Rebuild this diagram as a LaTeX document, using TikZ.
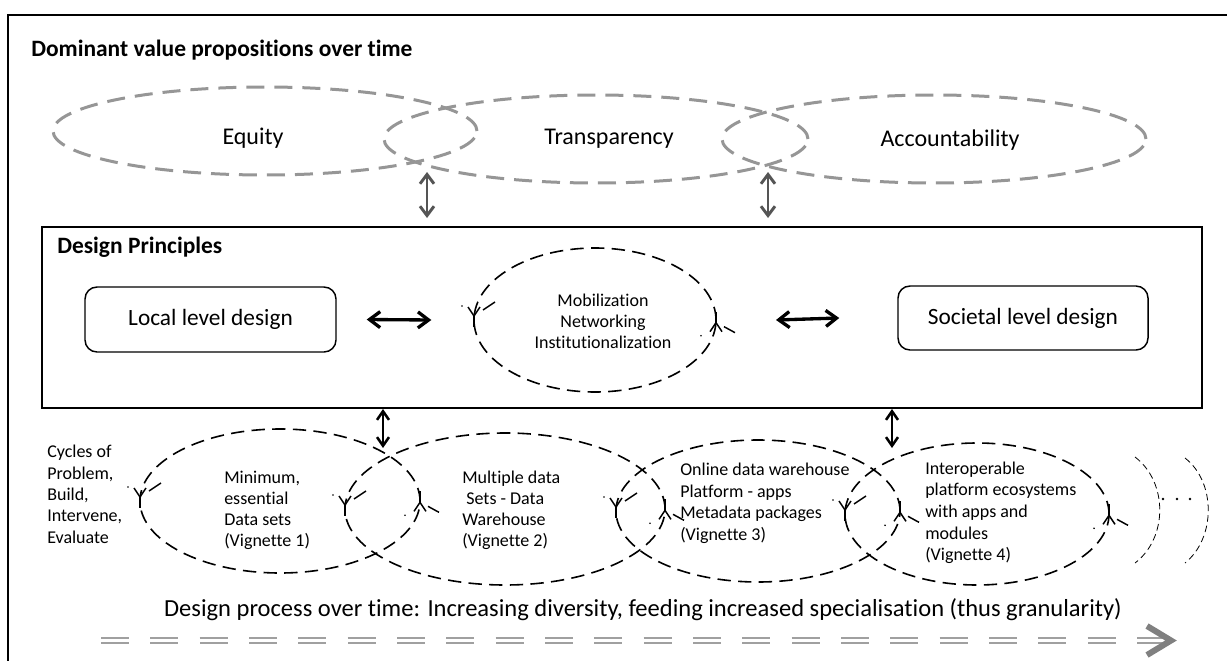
\documentclass[tikz,border=0pt]{standalone}
\usepackage{fontspec}
\setmainfont{Carlito}[Ligatures={NoCommon}]
\usetikzlibrary{arrows.meta,shapes.geometric}
\definecolor{ellgray}{RGB}{150,150,150}
\definecolor{arrgray}{RGB}{85,85,85}
\definecolor{procgray}{RGB}{160,160,160}
\definecolor{tipgray}{RGB}{128,128,128}
\begin{document}
\begin{tikzpicture}[x=0.75pt,y=-0.75pt,
  valell/.style={draw=ellgray, line width=2.25pt, dash pattern=on 13.5pt off 7.5pt, ellipse, inner sep=0pt, outer sep=0pt},
  cycell/.style={draw=black, line width=1.2pt, dash pattern=on 10pt off 5.5pt, ellipse, inner sep=0pt, outer sep=0pt},
  bigtxt/.style={font=\fontsize{18}{21}\selectfont, inner sep=0pt, anchor=base},
  headtxt/.style={font=\bfseries\fontsize{17.6}{21}\selectfont, inner sep=0pt, anchor=base west},
  smalltxt/.style={font=\fontsize{13.5}{16}\selectfont, inner sep=0pt, anchor=base west},
  levelbox/.style={draw, rounded corners=9pt, line width=1.1pt, inner sep=0pt, font=\fontsize{17.5}{21}\selectfont},
  grayarrow/.style={draw=arrgray, line width=2.2pt, {Straight Barb[length=7pt,width=10.5pt]}-{Straight Barb[length=7pt,width=10.5pt]}},
  blkarrow/.style={draw=black, line width=2.5pt, {Straight Barb[length=8pt,width=12pt]}-{Straight Barb[length=8pt,width=12pt]}},
  blkvarrow/.style={draw=black, line width=1.9pt, {Straight Barb[length=6.5pt,width=9pt]}-{Straight Barb[length=6.5pt,width=9pt]}},
  ymark/.style={draw=black, line width=1.1pt},
  pics/ymarkL/.style={code={
    \draw[ymark] (-6,-9) -- (0,0) -- (6,-9);
    \draw[ymark] (0,0) -- (0,11);
    \draw[ymark] (9,-6) -- (21,-14);
    \fill (-12,-10) circle (0.9);
  }},
  pics/ymarkR/.style={code={
    \draw[ymark] (-6,9) -- (0,0) -- (6,9);
    \draw[ymark] (0,0) -- (0,-11);
    \draw[ymark] (8,4) -- (19,10);
    \fill (-15,13) circle (0.9);
  }}
]
\useasboundingbox (0,0) rectangle (1227,660);
% outer frame (cropped on right and bottom)
\coordinate (frbl) at (8,662);
\coordinate (frtl) at (8,15);
\coordinate (frtr) at (1229,15);
\draw[line width=2pt] (frbl) -- (frtl) -- (frtr);

\node[headtxt] (title) at (31,56) {Dominant value propositions over time};

% value proposition ellipses
\node[valell, minimum width=318pt, minimum height=66pt] (eq) at (265,131) {};
\node[valell, minimum width=318pt, minimum height=66pt] (tr) at (596,139) {};
\node[valell, minimum width=318pt, minimum height=66pt] (ac) at (934,139) {};
\node[bigtxt] (teq) at (253,144) {Equity};
\node[bigtxt] (ttr) at (609,144) {Transparency};
\node[bigtxt] (tac) at (950,146) {Accountability};

% design principles box
\node[draw, line width=1.6pt, minimum width=870pt, minimum height=135.75pt, inner sep=0pt] (dp) at (622,317.5) {};
\node[headtxt] (dptitle) at (57,253) {Design Principles};

\coordinate (ga1s) at (427,172);
\coordinate (ga1e) at (427,218);
\coordinate (ga2s) at (768,172);
\coordinate (ga2e) at (768,218);
\draw[grayarrow] (ga1s) -- (ga1e);
\draw[grayarrow] (ga2s) -- (ga2e);

\node[levelbox, minimum width=188.25pt, minimum height=48.75pt] (local) at (210.5,319.5) {Local level design};
\node[levelbox, minimum width=187.5pt, minimum height=48pt] (soc) at (1023,318) {Societal level design};

\node[cycell, minimum width=181.5pt, minimum height=108pt] (mid) at (595,320) {};
\node[smalltxt, anchor=base] (m1) at (603,306) {Mobilization};
\node[smalltxt, anchor=base] (m2) at (603,327) {Networking};
\node[smalltxt, anchor=base] (m3) at (603,348) {Institutionalization};
\pic at ([yshift=3pt]mid.west) {ymarkL};
\pic at ([yshift=-2pt]mid.east) {ymarkR};

\draw[blkarrow] ([xshift=22.5pt]local.east) -- ([xshift=-32pt]mid.west);
\draw[blkarrow] ([xshift=45pt]mid.east) -- ([xshift=-43.5pt]soc.west);

% bottom arrows from design box
\coordinate (ba1s) at (383,409);
\coordinate (ba1e) at (383,448);
\coordinate (ba2s) at (892,409);
\coordinate (ba2e) at (892,448);
\draw[blkvarrow] (ba1s) -- (ba1e);
\draw[blkvarrow] (ba2s) -- (ba2e);

% cycles
\node[smalltxt] (c1) at (47,457) {Cycles of};
\node[smalltxt] (c2) at (47,479) {Problem,};
\node[smalltxt] (c3) at (47,500) {Build,};
\node[smalltxt] (c4) at (47,521) {Intervene,};
\node[smalltxt] (c5) at (47,543) {Evaluate};

\node[cycell, minimum width=210pt, minimum height=108pt] (e1) at (280,501) {};
\node[cycell, minimum width=240pt, minimum height=114pt] (e2) at (505,509) {};
\node[cycell, minimum width=213pt, minimum height=106.5pt] (e3) at (758,511) {};
\node[cycell, minimum width=198pt, minimum height=106.5pt] (e4) at (977,514) {};

\foreach \e in {e1,e2,e3,e4}{
  \pic at ([yshift=3pt]\e.west) {ymarkL};
  \pic at ([yshift=-1pt]\e.east) {ymarkR};
}

\node[smalltxt] (v1a) at (224,483) {Minimum,};
\node[smalltxt] (v1b) at (224,504) {essential};
\node[smalltxt] (v1c) at (224,525) {Data sets};
\node[smalltxt] (v1d) at (224,546) {(Vignette 1)};

\node[smalltxt] (v2a) at (462,483) {Multiple data};
\node[smalltxt] (v2b) at (462,504) {\ Sets - Data};
\node[smalltxt] (v2c) at (462,525) {Warehouse};
\node[smalltxt] (v2d) at (462,546) {(Vignette 2)};

\node[smalltxt] (v3a) at (680,475) {Online data warehouse};
\node[smalltxt] (v3b) at (680,497) {Platform - apps};
\node[smalltxt] (v3c) at (680,518) {Metadata packages};
\node[smalltxt] (v3d) at (680,540) {(Vignette 3)};

\node[smalltxt] (v4a) at (925,474) {Interoperable};
\node[smalltxt] (v4b) at (925,495) {platform ecosystems};
\node[smalltxt] (v4c) at (925,517) {with apps and};
\node[smalltxt] (v4d) at (925,539) {modules};
\node[smalltxt] (v4e) at (925,560) {(Vignette 4)};

% continuation arcs and dots
\draw[line width=0.6pt, dash pattern=on 5pt off 3pt] (1135,457) .. controls (1168,482) and (1168,538) .. (1135,563);
\draw[line width=0.6pt, dash pattern=on 5pt off 3pt] (1185,458) .. controls (1216,482) and (1216,538) .. (1185,563);
\fill (1163,499) circle (1.3) (1177,499) circle (1.3) (1190,499) circle (1.3);

% process text and arrow
\node[font=\fontsize{18.4}{22}\selectfont, inner sep=0pt, anchor=base east] (proc) at (1122,616) {Design process over time: Increasing diversity, feeding increased specialisation (thus granularity)};
\coordinate (ps) at (101,640.5);
\coordinate (pe) at (1165,640.5);
\coordinate (tipa) at (1147,626);
\coordinate (tipb) at (1171,640.5);
\coordinate (tipc) at (1147,655);
\draw[procgray, line width=1.5pt, double=white, double distance=1.9pt, dash pattern=on 21pt off 16pt] (ps) -- (pe);
\draw[tipgray, line width=4.5pt, line join=miter] (tipa) -- (tipb) -- (tipc);
\end{tikzpicture}
\end{document}
